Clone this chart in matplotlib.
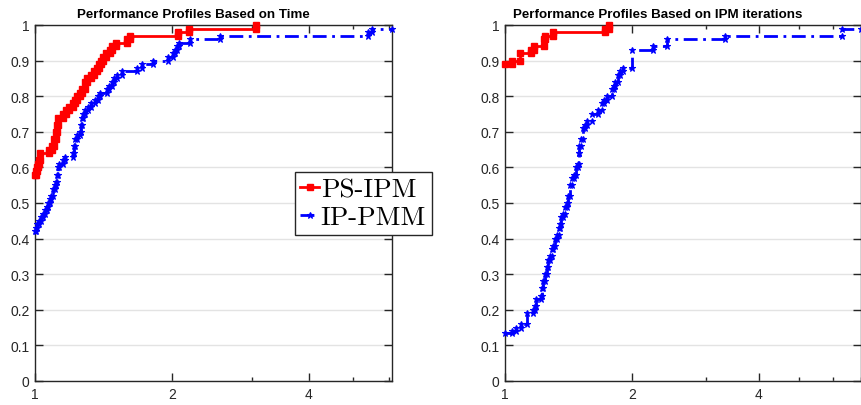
import numpy as np
import matplotlib
matplotlib.use("Agg")
import matplotlib.pyplot as plt
from matplotlib.ticker import FixedLocator, FixedFormatter, NullFormatter

# ---- data (performance ratio tau, fraction of problems) ----
# left panel: based on time
time_ps_x = [1.0, 1.005, 1.01, 1.015, 1.02, 1.025, 1.075, 1.09, 1.10, 1.11, 1.12, 1.125,
             1.15, 1.17, 1.19, 1.21, 1.225, 1.24, 1.255, 1.27, 1.285, 1.30, 1.33, 1.35,
             1.37, 1.385, 1.40, 1.41, 1.43, 1.46, 1.48, 1.51, 1.595, 1.62, 2.06, 2.18, 3.07]
time_ps_y = [0.58, 0.59, 0.60, 0.61, 0.62, 0.64, 0.65, 0.66, 0.68, 0.70, 0.72, 0.74,
             0.75, 0.76, 0.77, 0.78, 0.79, 0.80, 0.81, 0.82, 0.84, 0.85, 0.86, 0.87,
             0.88, 0.89, 0.90, 0.91, 0.92, 0.93, 0.94, 0.95, 0.96, 0.97, 0.98, 0.99, 1.0]

time_ip_x = [1.0, 1.005, 1.012, 1.02, 1.03, 1.04, 1.05, 1.06, 1.068, 1.079, 1.087, 1.095,
             1.105, 1.112, 1.118, 1.125, 1.129, 1.152, 1.165, 1.212, 1.218, 1.224, 1.24,
             1.255, 1.262, 1.268, 1.275, 1.29, 1.307, 1.33, 1.355, 1.375, 1.389, 1.439,
             1.455, 1.476, 1.495, 1.515, 1.553, 1.675, 1.719, 1.816, 1.959, 2.01, 2.03,
             2.052, 2.07, 2.191, 2.551, 5.40, 5.50]
time_ip_y = [0.42, 0.43, 0.44, 0.45, 0.46, 0.47, 0.48, 0.49, 0.50, 0.51, 0.52, 0.54,
             0.55, 0.56, 0.58, 0.60, 0.61, 0.62, 0.63, 0.64, 0.66, 0.68, 0.69,
             0.70, 0.72, 0.74, 0.75, 0.76, 0.77, 0.78, 0.79, 0.80, 0.81, 0.82,
             0.83, 0.84, 0.85, 0.86, 0.87, 0.88, 0.89, 0.90, 0.91, 0.92, 0.93,
             0.94, 0.95, 0.96, 0.97, 0.98, 0.99]

# right panel: based on IPM iterations
iter_ps_x = [1.0, 1.04, 1.085, 1.15, 1.17, 1.235, 1.245, 1.30, 1.73, 1.77]
iter_ps_y = [0.89, 0.90, 0.92, 0.93, 0.94, 0.96, 0.97, 0.98, 0.99, 1.0]

iter_ip_x = [1.0, 1.039, 1.062, 1.091, 1.128, 1.165, 1.175, 1.184, 1.217, 1.224, 1.231,
             1.245, 1.258, 1.268, 1.278, 1.29, 1.299, 1.315, 1.328, 1.34, 1.35, 1.36,
             1.372, 1.385, 1.40, 1.41, 1.426, 1.44, 1.457, 1.475, 1.489, 1.497, 1.50,
             1.515, 1.53, 1.545, 1.564, 1.608, 1.66, 1.697, 1.72, 1.744, 1.793, 1.81,
             1.823, 1.85, 1.873, 1.905, 2.0, 2.24, 2.43, 3.32, 6.30]
iter_ip_y = [0.134, 0.14, 0.15, 0.16, 0.19, 0.20, 0.21, 0.23, 0.24, 0.26, 0.28,
             0.30, 0.32, 0.34, 0.35, 0.37, 0.38, 0.40, 0.41, 0.43, 0.44, 0.46,
             0.47, 0.49, 0.50, 0.52, 0.55, 0.57, 0.58, 0.60, 0.61, 0.64, 0.66,
             0.68, 0.71, 0.72, 0.73, 0.75, 0.76, 0.78, 0.79, 0.80, 0.82, 0.83,
             0.84, 0.86, 0.87, 0.88, 0.93, 0.94, 0.96, 0.97, 0.99]

titles = ["Performance Profiles Based on Time", "Performance Profiles Based on IPM iterations"]
labels = ["PS-IPM", "IP-PMM"]
xmax = [6.1, 7.0]
xticks = [1, 2, 4]
xminor = [3, 5, 6, 7]
yticks = [0, 0.1, 0.2, 0.3, 0.4, 0.5, 0.6, 0.7, 0.8, 0.9, 1.0]
ylabels = ["0", "0.1", "0.2", "0.3", "0.4", "0.5", "0.6", "0.7", "0.8", "0.9", "1"]


def stairs(x, y, x_end=None):
    # build the corner points of a post-step line
    x = np.asarray(x, float)
    y = np.asarray(y, float)
    xs = np.repeat(x, 2)[1:]
    ys = np.repeat(y, 2)[:-1]
    if x_end is not None:
        xs = np.append(xs, x_end)
        ys = np.append(ys, y[-1])
    return xs, ys


plt.rcParams["font.family"] = ["Liberation Sans", "DejaVu Sans"]
axcol = "#262626"

fig = plt.figure(figsize=(8.62, 4.06), dpi=100)
ax1 = fig.add_axes([35 / 862, 24 / 406, 357 / 862, 356 / 406])
ax2 = fig.add_axes([505 / 862, 24 / 406, 356 / 862, 356 / 406])

panels = [(ax1, time_ps_x, time_ps_y, time_ip_x, time_ip_y, 0.445),
          (ax2, iter_ps_x, iter_ps_y, iter_ip_x, iter_ip_y, 0.428)]

for i, (ax, px, py, qx, qy, tx) in enumerate(panels):
    xs, ys = stairs(px, py)
    ax.plot(xs, ys, color="#ff0000", lw=2.0, marker="s", ms=4.5,
            label=labels[0], clip_on=False, zorder=4)
    xs, ys = stairs(qx, qy, xmax[i])
    ax.plot(xs, ys, color="#0000ff", lw=2.0, ls=(0, (5, 2, 1, 2)), marker="*", ms=4.5,
            mew=0.8, label=labels[1], clip_on=False, zorder=3)

    ax.set_xscale("log", base=2)
    ax.set_xlim(1, xmax[i])
    ax.set_ylim(0, 1)
    ax.xaxis.set_major_locator(FixedLocator(xticks))
    ax.xaxis.set_major_formatter(FixedFormatter([str(t) for t in xticks]))
    ax.xaxis.set_minor_locator(FixedLocator(xminor))
    ax.xaxis.set_minor_formatter(NullFormatter())
    ax.yaxis.set_major_locator(FixedLocator(yticks))
    ax.yaxis.set_major_formatter(FixedFormatter(ylabels))

    ax.grid(axis="y", color="#e3e3e3", lw=1.0, zorder=0)
    ax.set_axisbelow(True)
    ax.tick_params(which="both", direction="in", top=True, right=True,
                   colors=axcol, labelsize=10, width=1.0)
    ax.tick_params(which="major", length=6, pad=4)
    ax.tick_params(which="minor", length=3)
    for sp in ax.spines.values():
        sp.set_color(axcol)
        sp.set_linewidth(1.0)

    ax.set_title(titles[i], x=tx, fontsize=9.6, fontweight="bold", pad=6, color="black")

ax1.legend(loc="upper left", bbox_to_anchor=(295 / 862, 1 - 173 / 406),
           bbox_transform=fig.transFigure, borderaxespad=0,
           prop={"family": "cmr10", "size": 19.5}, frameon=True, fancybox=False,
           edgecolor="#262626", framealpha=1, handlelength=0.7, handletextpad=0.05,
           borderpad=0.2, labelspacing=0.15)

fig.savefig("out.png", dpi=100)
